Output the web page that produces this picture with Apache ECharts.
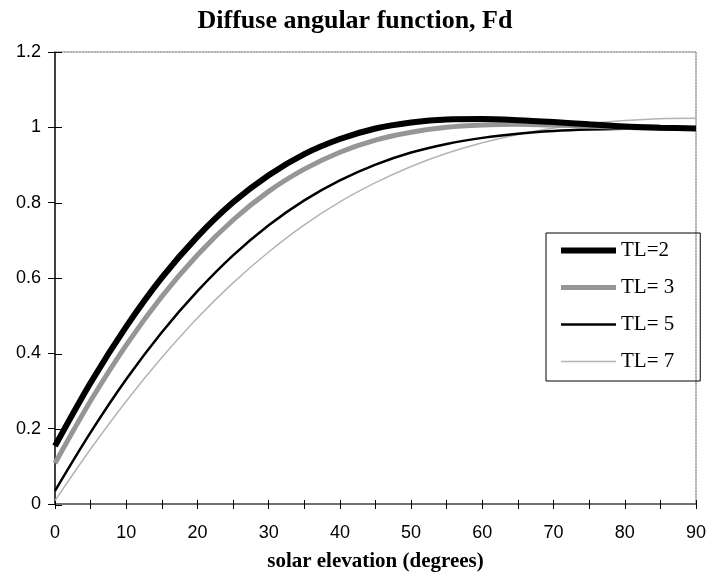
<!DOCTYPE html>
<html>
<head>
<meta charset="utf-8">
<script src="https://cdn.jsdelivr.net/npm/echarts@6/dist/echarts.min.js"></script>
<style>html,body{margin:0;padding:0;background:#fff}#c{width:710px;height:577px}</style>
</head>
<body>
<div id="c"></div>
<script>
const elevations = [0,5,10,15,20,25,30,35,40,45,50,55,60,65,70,75,80,85,90];
const tl2 = [0.154,0.322,0.471,0.601,0.710,0.801,0.873,0.929,0.969,0.997,1.013,1.021,1.022,1.019,1.014,1.008,1.002,0.999,0.997];
const tl3 = [0.108,0.274,0.422,0.551,0.661,0.754,0.830,0.889,0.934,0.966,0.987,1.000,1.006,1.008,1.006,1.003,1.000,0.997,0.997];
const tl5 = [0.035,0.190,0.331,0.456,0.565,0.660,0.740,0.806,0.859,0.901,0.933,0.956,0.972,0.983,0.990,0.994,0.996,0.997,0.998];
const tl7 = [0.009,0.146,0.273,0.389,0.494,0.587,0.669,0.741,0.802,0.853,0.896,0.931,0.959,0.981,0.998,1.010,1.018,1.023,1.024];
const seriesNames = ['TL=2','TL= 3','TL= 5','TL= 7'];
const yTicks = [0,0.2,0.4,0.6,0.8,1,1.2];

const styles = {
  'TL=2': {color:'#000', width:6},
  'TL= 3': {color:'#969696', width:5},
  'TL= 5': {color:'#000', width:2.5},
  'TL= 7': {color:'#b4b4b4', width:1.5}
};

const pair = arr => elevations.map((x,i)=>[x,arr[i]]);
const chart = echarts.init(document.getElementById('c'));
const gridRect = {left:55,right:14,top:52,bottom:72};
const mkSeries = (name, arr) => ({
  name, type:'line', xAxisIndex:0, yAxisIndex:0, smooth:0.3, showSymbol:false, symbol:'none',
  data:pair(arr), lineStyle:{color:styles[name].color,width:styles[name].width},
  itemStyle:{color:styles[name].color}
});
chart.setOption({
  animation:false,
  title:{text:'Diffuse angular function, Fd',left:'center',top:3,
    textStyle:{fontFamily:'Liberation Serif',fontWeight:'bold',fontSize:26,color:'#000'}},
  grid:[Object.assign({},gridRect),Object.assign({},gridRect)],
  legend:{orient:'vertical',left:546,top:233,
    data:seriesNames.map(n=>({name:n,lineStyle:{width:styles[n].width,color:styles[n].color}})),
    itemStyle:{color:'rgba(0,0,0,0)',borderWidth:0},
    itemWidth:55,itemHeight:14,itemGap:16,padding:[7,26,9,12],
    borderColor:'#000',borderWidth:1,
    textStyle:{fontFamily:'Liberation Serif',fontSize:21,color:'#000'}},
  xAxis:[
    {type:'value',gridIndex:0,position:'bottom',min:0,max:90,interval:5,
     name:'solar elevation (degrees)',nameLocation:'middle',nameGap:47,
     nameTextStyle:{fontFamily:'Liberation Serif',fontWeight:'bold',fontSize:21,color:'#000'},
     axisLine:{onZero:false,lineStyle:{color:'#444',width:1.5}},
     axisTick:{length:5,lineStyle:{color:'#000',width:1}},
     axisLabel:{margin:20,fontFamily:'Liberation Sans',fontSize:18,color:'#000',
       formatter:v=> (v%10===0? String(v):'')},
     splitLine:{show:false}},
    {type:'value',gridIndex:0,position:'top',min:0,max:90,interval:5,
     axisLine:{onZero:false,lineStyle:{color:'#999',width:1.5,type:'dotted'}},
     axisTick:{show:false},axisLabel:{show:false},splitLine:{show:false}},
    {type:'value',gridIndex:1,position:'bottom',min:0,max:90,interval:5,
     axisLine:{show:false,onZero:false},axisTick:{inside:true,length:5,lineStyle:{color:'#000',width:1}},
     axisLabel:{show:false},splitLine:{show:false}}
  ],
  yAxis:[
    {type:'value',gridIndex:0,position:'left',min:0,max:1.2,interval:0.2,
     axisLine:{show:true,onZero:false,lineStyle:{color:'#000',width:1.5}},
     axisTick:{show:true,length:7,lineStyle:{color:'#000',width:1}},
     axisLabel:{margin:14,fontFamily:'Liberation Sans',fontSize:18,color:'#000',
       formatter:v=>{const t=yTicks.find(k=>Math.abs(k-v)<1e-6);return t===undefined?'':String(t);}},
     splitLine:{show:false}},
    {type:'value',gridIndex:0,position:'right',min:0,max:1.2,interval:0.2,
     axisLine:{show:true,onZero:false,lineStyle:{color:'#999',width:1.5,type:'dotted'}},
     axisTick:{show:false},axisLabel:{show:false},splitLine:{show:false}},
    {type:'value',gridIndex:1,position:'left',min:0,max:1.2,interval:0.2,
     axisLine:{show:false,onZero:false},axisTick:{show:true,inside:true,length:7,lineStyle:{color:'#000',width:1}},
     axisLabel:{show:false},splitLine:{show:false}}
  ],
  series:[
    mkSeries('TL= 7', tl7),
    mkSeries('TL= 5', tl5),
    mkSeries('TL= 3', tl3),
    mkSeries('TL=2', tl2)
  ]
});
</script>
</body>
</html>
